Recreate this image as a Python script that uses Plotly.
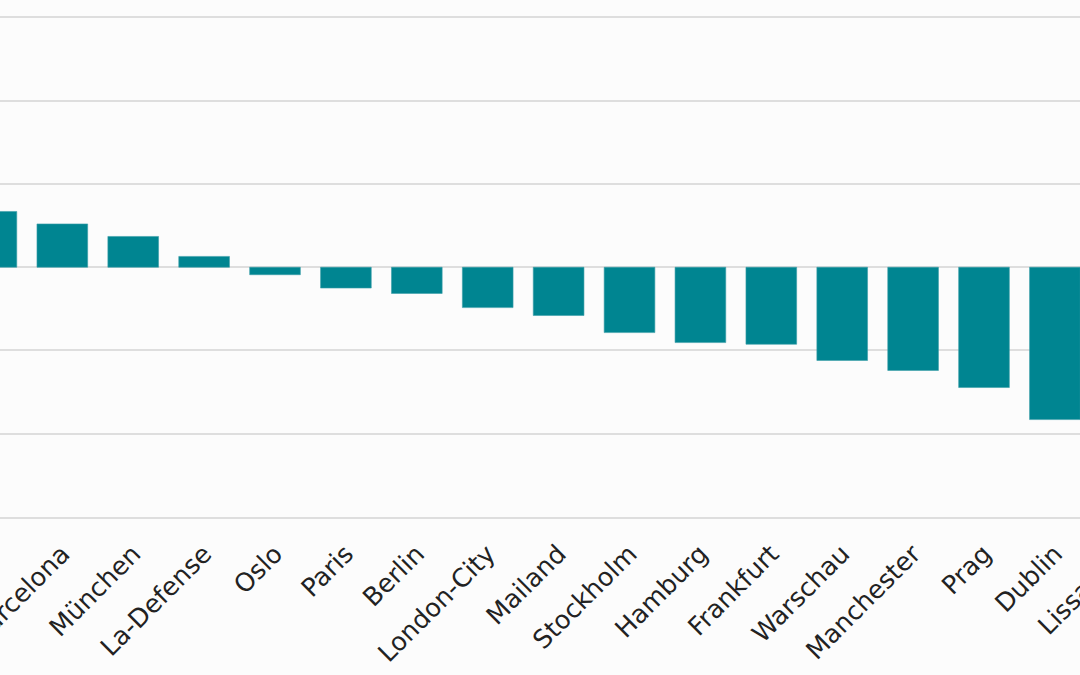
import plotly.graph_objects as go

# Staedte (erste Kategorie und Lissabon liegen im Bild ausserhalb des sichtbaren Bereichs)
staedte = ["Madrid", "Barcelona", "München", "La-Defense", "Oslo", "Paris", "Berlin",
           "London-City", "Mailand", "Stockholm", "Hamburg", "Frankfurt", "Warschau",
           "Manchester", "Prag", "Dublin", "Lissabon"]
werte = [1.34, 1.04, 0.74, 0.26, -0.18, -0.50, -0.63, -0.97, -1.16, -1.57, -1.81,
         -1.85, -2.24, -2.48, -2.89, -3.66, -4.20]

x_range = [0.121, 15.354]
y_range = [-6, 6.42]
y_ticks = [-6, -4, -2, 0, 2, 4, 6]

teal = "#008591"
font = "DejaVu Sans"
fsize = 25.5

fig = go.Figure()
fig.add_trace(go.Bar(
    x=list(range(len(staedte))), y=werte,
    marker=dict(color=teal, line=dict(color="#3a9ea7", width=0.6)),
    width=0.715,
    hoverinfo="skip",
))

# Beschriftung der letzten Stadt (Tick liegt ausserhalb des Achsenbereichs)
letzte = len(staedte) - 1
fig.add_annotation(
    text=staedte[letzte], xref="paper", yref="paper",
    x=(letzte - x_range[0]) / (x_range[1] - x_range[0]), y=0,
    xanchor="right", yanchor="top", yshift=-21, xshift=8,
    textangle=-45, showarrow=False,
    font=dict(family=font, size=fsize, color="#222222"),
)

fig.update_layout(
    width=1080, height=675,
    margin=dict(l=0, r=0, t=0, b=158),
    paper_bgcolor="#fcfcfc", plot_bgcolor="#fcfcfc",
    showlegend=False,
    font=dict(family=font, size=fsize, color="#222222"),
)
fig.update_xaxes(
    range=x_range, tickmode="array",
    tickvals=list(range(len(staedte))), ticktext=staedte,
    tickangle=-45, showgrid=False, zeroline=False,
    showline=True, linecolor="#dedede", linewidth=1.5,
    ticks="outside", ticklen=10, tickcolor="rgba(0,0,0,0)",
    ticklabeloverflow="allow", automargin=False,
)
fig.update_yaxes(
    range=y_range, tickvals=y_ticks, showticklabels=False,
    showgrid=True, gridcolor="#dedede", gridwidth=1.5,
    zeroline=True, zerolinecolor="#dedede", zerolinewidth=1.5,
    automargin=False,
)

fig.write_html("out.html", config={"displayModeBar": False},
               post_script="document.body.style.margin = '0';")
